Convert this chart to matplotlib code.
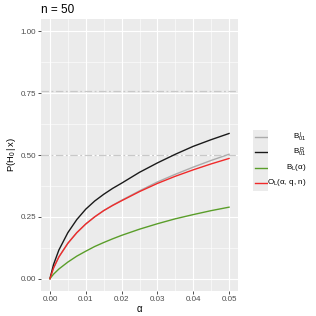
import matplotlib
matplotlib.use('Agg')
import matplotlib.pyplot as plt
from matplotlib.ticker import MultipleLocator

plt.rcParams['font.family'] = ['Liberation Sans', 'DejaVu Sans']
plt.rcParams['mathtext.fontset'] = 'custom'
plt.rcParams['mathtext.rm'] = 'Liberation Sans'
plt.rcParams['mathtext.it'] = 'Liberation Sans'

# values
alpha = [0, 0.001, 0.0025, 0.005, 0.0075, 0.01, 0.0125, 0.015, 0.0175,
         0.02, 0.025, 0.03, 0.035, 0.04, 0.045, 0.05]
b_i = [0, 0.043, 0.088, 0.143, 0.186, 0.221, 0.250, 0.275, 0.297,
       0.317, 0.355, 0.391, 0.422, 0.451, 0.478, 0.503]
b_r = [0, 0.057, 0.116, 0.186, 0.239, 0.281, 0.314, 0.341, 0.365,
       0.386, 0.430, 0.468, 0.503, 0.535, 0.562, 0.587]
b_l = [0, 0.018, 0.039, 0.067, 0.091, 0.111, 0.130, 0.146, 0.161,
       0.175, 0.200, 0.222, 0.242, 0.259, 0.275, 0.289]
o_l = [0, 0.043, 0.088, 0.143, 0.186, 0.221, 0.250, 0.275, 0.296,
       0.315, 0.352, 0.385, 0.414, 0.440, 0.464, 0.486]
hlines = [0.5, 0.76]

labels = [r'$\mathrm{B^{\,I}_{01}}$', r'$\mathrm{B^{\,R}_{01}}$',
          r'$\mathrm{B_L(\alpha)}$', r'$\mathrm{O_L(\alpha,\,q,\,n)}$']
colors = ['#ABABAB', '#1A1A1A', '#5A9E2A', '#F02A2A']
series = [b_i, b_r, b_l, o_l]

fig = plt.figure(figsize=(3.16, 3.16), dpi=100)
ax = fig.add_axes([41/316, 1 - 291/316, 197/316, 272/316])
ax.set_facecolor('#EBEBEB')
for s in ax.spines.values():
    s.set_visible(False)

ax.set_xlim(-0.0025, 0.0525)
ax.set_ylim(-0.05, 1.05)
ax.xaxis.set_major_locator(MultipleLocator(0.01))
ax.xaxis.set_minor_locator(MultipleLocator(0.005))
ax.yaxis.set_major_locator(MultipleLocator(0.25))
ax.yaxis.set_minor_locator(MultipleLocator(0.125))
ax.grid(which='major', color='white', lw=0.8)
ax.grid(which='minor', color='white', lw=0.4)
ax.set_axisbelow(True)
ax.tick_params(which='major', length=2, width=0.6, color='#333333',
               labelsize=5.8, labelcolor='#4D4D4D', pad=1.5)
ax.tick_params(which='minor', length=0)
ax.set_xticklabels(['%.2f' % v for v in ax.get_xticks()])
ax.set_yticklabels(['%.2f' % v for v in ax.get_yticks()])

for h in hlines:
    ax.axhline(h, color='#C8C8C8', lw=0.9, ls=(0, (6, 2, 1.5, 2)))

for ys, c in zip(series, colors):
    ax.plot(alpha, ys, color=c, lw=1.0)

ax.set_xlabel(r'$\mathrm{\alpha}$', fontsize=7, labelpad=1)
ax.set_ylabel(r'$\mathrm{P(H_0\,|\,x)}$', fontsize=6.8, labelpad=2)
fig.text(41/316, 1 - 10/316, 'n = 50', fontsize=8.5, va='center', ha='left')

# legend drawn by hand so labels can be right aligned
key_y = [137, 152, 168, 183]
for yk, c, lab in zip(key_y, colors, labels):
    kax = fig.add_axes([253/316, 1 - (yk + 7.5)/316, 15/316, 15/316])
    kax.set_facecolor('#EBEBEB')
    kax.set_xlim(0, 1)
    kax.set_ylim(0, 1)
    kax.set_xticks([])
    kax.set_yticks([])
    for s in kax.spines.values():
        s.set_visible(False)
    kax.plot([0.1, 0.9], [0.5, 0.5], color=c, lw=1.0)
    fig.text(306/316, 1 - yk/316, lab, fontsize=5.8, ha='right', va='center')

fig.savefig('out.png', dpi=100)
